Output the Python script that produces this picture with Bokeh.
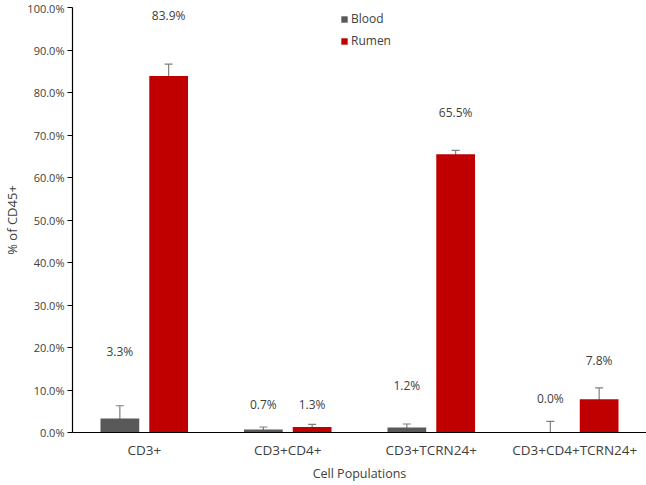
from bokeh.plotting import figure
from bokeh.models import ColumnDataSource, FactorRange, Whisker, TeeHead, Legend, LegendItem, FixedTicker, Title
from bokeh.transform import dodge
from bokeh.core.properties import value
from bokeh.embed import file_html
from bokeh.resources import INLINE

categories = ["CD3+", "CD3+CD4+", "CD3+TCRN24+", "CD3+CD4+TCRN24+"]
blood = [3.3, 0.7, 1.2, 0.0]
blood_err = [3.0, 0.6, 0.8, 2.6]
rumen = [83.9, 1.3, 65.5, 7.8]
rumen_err = [2.8, 0.6, 0.9, 2.7]
blood_label_y = [19.0, 6.6, 11.0, 8.0]
rumen_label_y = [98.1, 6.6, 75.2, 16.9]
y_ticks = list(range(0, 101, 10))
x_title = "Cell Populations"
y_title = "% of CD45+"

FONT = "Open Sans"
TXT = "#404040"

src_b = ColumnDataSource(dict(
    cat=categories, val=blood,
    upper=[v + e for v, e in zip(blood, blood_err)],
    lower=[v - e for v, e in zip(blood, blood_err)],
    ly=blood_label_y, txt=[f"{v:.1f}%" for v in blood]))
src_r = ColumnDataSource(dict(
    cat=categories, val=rumen,
    upper=[v + e for v, e in zip(rumen, rumen_err)],
    lower=[v - e for v, e in zip(rumen, rumen_err)],
    ly=rumen_label_y, txt=[f"{v:.1f}%" for v in rumen]))

p = figure(x_range=FactorRange(factors=categories, range_padding=0),
           y_range=(0, 100), width=646, height=483,
           output_backend="svg", toolbar_location=None,
           min_border_left=70, min_border_right=0, min_border_top=7, min_border_bottom=49)
p.outline_line_color = None
p.xgrid.grid_line_color = None
p.ygrid.grid_line_color = None

off = 0.17
w = 0.27
rb = p.vbar(x=dodge("cat", -off, range=p.x_range), top="val", width=w, source=src_b,
            fill_color="#595959", line_color=None)
rr = p.vbar(x=dodge("cat", off, range=p.x_range), top="val", width=w, source=src_r,
            fill_color="#c00000", line_color=None)

for src, o in ((src_b, -off), (src_r, off)):
    wh = Whisker(base=dodge("cat", o, range=p.x_range), upper="upper", lower="lower", source=src,
                 line_color="#7f7f7f", line_width=1.2,
                 upper_head=TeeHead(size=8, line_color="#7f7f7f", line_width=1.2),
                 lower_head=TeeHead(size=8, line_color="#7f7f7f", line_width=1.2))
    p.add_layout(wh)
    p.text(x=dodge("cat", o, range=p.x_range), y="ly", text="txt", source=src,
           text_align="center", text_baseline="middle", text_font=value(FONT),
           text_font_size="12px", text_color=TXT)

p.yaxis.ticker = FixedTicker(ticks=y_ticks)
p.yaxis.major_label_overrides = {t: f"{t:.1f}%" for t in y_ticks}
p.yaxis.minor_tick_line_color = None
p.yaxis.major_tick_in = 0
p.yaxis.major_tick_out = 5
p.yaxis.axis_label = y_title
p.xaxis.minor_tick_line_color = None
for ax in (p.xaxis, p.yaxis):
    ax.axis_line_color = "black"
    ax.axis_line_width = 1.2
    ax.major_label_text_font = FONT
    ax.major_label_text_color = TXT
    ax.axis_label_text_font = FONT
    ax.axis_label_text_font_style = "normal"
    ax.axis_label_text_color = TXT
p.yaxis.axis_label_text_font_size = "13px"
p.yaxis.major_tick_line_color = "black"
p.xaxis.major_tick_line_color = None
p.xaxis.major_tick_in = 0
p.xaxis.major_tick_out = 0
p.yaxis.major_label_text_font_size = "11px"
p.xaxis.major_label_text_font_size = "13.5px"
p.xaxis.major_label_standoff = 8
p.yaxis.major_label_standoff = 3
p.yaxis.axis_label_standoff = 3

p.add_layout(Title(text=x_title, align="center", text_font=FONT, text_font_size="12.5px",
                   text_font_style="normal", text_color=TXT, standoff=3, offset=0), "below")

legend = Legend(items=[LegendItem(label="Blood", renderers=[rb]),
                       LegendItem(label="Rumen", renderers=[rr])],
                location=(268, 383), orientation="vertical",
                glyph_width=8, glyph_height=8, label_height=14, spacing=5,
                padding=0, margin=0, label_standoff=3,
                label_text_font=FONT, label_text_font_size="12px", label_text_color=TXT,
                border_line_color=None, background_fill_alpha=0)
p.add_layout(legend, "center")

open("out.html", "w").write(file_html(p, INLINE))
